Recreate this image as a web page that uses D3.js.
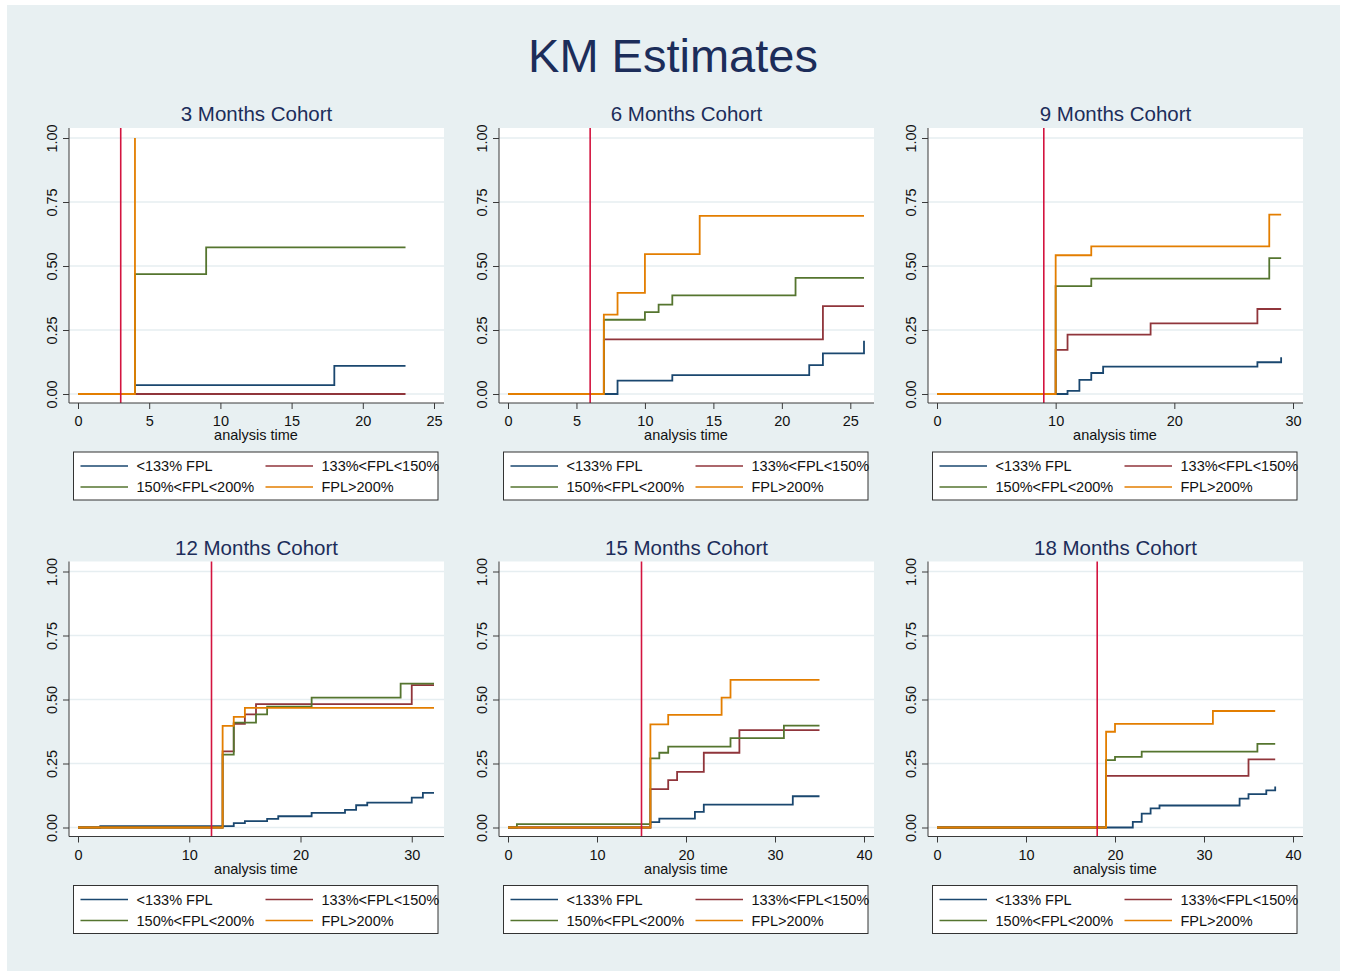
<!DOCTYPE html>
<html>
<head>
<meta charset="utf-8">
<script src="https://cdn.jsdelivr.net/npm/d3@7"></script>
<style>
  body { margin: 0; background: #fff; }
  svg { display: block; }
</style>
</head>
<body>
<svg id="chart" width="1346" height="973"></svg>
<script>
// Panel titles, cohort month (red reference line) and x axis set-up
const panelTitles = ['3 Months Cohort', '6 Months Cohort', '9 Months Cohort',
  '12 Months Cohort', '15 Months Cohort', '18 Months Cohort']
const cohortMonths = [3, 6, 9, 12, 15, 18]
const xDomainMax = [25, 26, 30, 32, 40, 40]
const xTickValues = [
  [0, 5, 10, 15, 20, 25],
  [0, 5, 10, 15, 20, 25],
  [0, 10, 20, 30],
  [0, 10, 20, 30],
  [0, 10, 20, 30, 40],
  [0, 10, 20, 30, 40]
]
const yTickValues = [0, 0.25, 0.5, 0.75, 1]
const groupLabels = ['<133% FPL', '133%<FPL<150%', '150%<FPL<200%', 'FPL>200%']

// KM failure estimates, one [time, estimate] list per group
const km3 = [
  [[0, 0], [4, 0.035], [18, 0.11], [23, 0.11]],
  [[0, 0], [23, 0]],
  [[0, 0], [4, 0.468], [9, 0.573], [23, 0.573]],
  [[0, 0], [4, 1]]
]
const km6 = [
  [[0, 0], [8, 0.052], [12, 0.074], [22, 0.113], [23, 0.159], [26, 0.208]],
  [[0, 0], [7, 0.213], [23, 0.343], [26, 0.343]],
  [[0, 0], [7, 0.29], [10, 0.32], [11, 0.349], [12, 0.385], [21, 0.454], [26, 0.454]],
  [[0, 0], [7, 0.31], [8, 0.395], [10, 0.546], [14, 0.696], [26, 0.696]]
]
const km9 = [
  [[0, 0], [11, 0.012], [12, 0.055], [13, 0.082], [14, 0.107], [27, 0.124], [29, 0.144]],
  [[0, 0], [10, 0.172], [11, 0.232], [18, 0.276], [27, 0.332], [29, 0.332]],
  [[0, 0], [10, 0.421], [13, 0.451], [28, 0.531], [29, 0.531]],
  [[0, 0], [10, 0.542], [13, 0.577], [28, 0.701], [29, 0.701]]
]
const km12 = [
  [[0, 0], [2, 0.005], [14, 0.017], [15, 0.025], [17, 0.034], [18, 0.044], [21, 0.057],
    [24, 0.069], [25, 0.087], [26, 0.097], [30, 0.117], [31, 0.135], [32, 0.135]],
  [[0, 0], [13, 0.297], [14, 0.405], [15, 0.442], [16, 0.482], [30, 0.556], [32, 0.556]],
  [[0, 0], [13, 0.285], [14, 0.41], [16, 0.442], [17, 0.472], [21, 0.507], [29, 0.562], [32, 0.562]],
  [[0, 0], [13, 0.397], [14, 0.432], [15, 0.467], [32, 0.467]]
]
const km15 = [
  [[0, 0], [16, 0.021], [17, 0.035], [21, 0.061], [22, 0.089], [32, 0.122], [35, 0.122]],
  [[0, 0], [16, 0.15], [18, 0.185], [19, 0.217], [22, 0.292], [26, 0.38], [35, 0.38]],
  [[0, 0], [1, 0.013], [16, 0.27], [17, 0.292], [18, 0.316], [25, 0.349], [31, 0.398], [35, 0.398]],
  [[0, 0], [16, 0.403], [18, 0.44], [24, 0.507], [25, 0.577], [35, 0.577]]
]
const km18 = [
  [[0, 0], [22, 0.022], [23, 0.054], [24, 0.075], [25, 0.086], [34, 0.113], [35, 0.13], [37, 0.145], [38, 0.16]],
  [[0, 0], [19, 0.202], [35, 0.266], [38, 0.266]],
  [[0, 0], [19, 0.263], [20, 0.276], [23, 0.296], [36, 0.327], [38, 0.327]],
  [[0, 0], [19, 0.374], [20, 0.405], [31, 0.455], [38, 0.455]]
]
const panelData = [km3, km6, km9, km12, km15, km18]

// Stata s2color look
const groupColors = ['#1a476f', '#90353b', '#55752f', '#e37e00']
const font = '"Liberation Sans", Arial, sans-serif'
const titleColor = '#1c2d5a'
const axisColor = '#3a3a3a'

const svg = d3.select('#chart')

// outer graph region
svg.append('rect')
  .attr('x', 7).attr('y', 5)
  .attr('width', 1333).attr('height', 966)
  .attr('fill', '#e8f0f2')

svg.append('text')
  .attr('x', 673).attr('y', 72)
  .attr('text-anchor', 'middle')
  .attr('font-family', font)
  .attr('font-size', 47)
  .attr('fill', titleColor)
  .text('KM Estimates')

// panel geometry (local to each panel)
const colOffsets = [0, 430, 859]
const rowOffsets = [0, 433.5]
const box = { left: 69, right: 444, top: 128, bottom: 403 }

panelData.forEach((series, i) => {
  const g = svg.append('g')
    .attr('transform', `translate(${colOffsets[i % 3]},${rowOffsets[Math.floor(i / 3)]})`)

  const x = d3.scaleLinear().domain([0, xDomainMax[i]]).range([78, 434])
  const y = d3.scaleLinear().domain([0, 1]).range([394, 138])

  // white plot region
  g.append('rect')
    .attr('x', box.left).attr('y', box.top)
    .attr('width', box.right - box.left).attr('height', box.bottom - box.top)
    .attr('fill', '#fff')

  // horizontal grid
  g.selectAll('.grid')
    .data(yTickValues)
    .join('line')
    .attr('x1', box.left).attr('x2', box.right)
    .attr('y1', d => y(d)).attr('y2', d => y(d))
    .attr('stroke', '#e6eef1')
    .attr('stroke-width', 1.6)

  // step curves
  const line = d3.line()
    .x(d => x(d[0]))
    .y(d => y(d[1]))
    .curve(d3.curveStepAfter)

  series.forEach((pts, k) => {
    g.append('path')
      .attr('d', line(pts))
      .attr('fill', 'none')
      .attr('stroke', groupColors[k])
      .attr('stroke-width', 1.8)
  })

  // cohort reference line
  g.append('line')
    .attr('x1', x(cohortMonths[i])).attr('x2', x(cohortMonths[i]))
    .attr('y1', box.top).attr('y2', box.bottom)
    .attr('stroke', '#d3143f')
    .attr('stroke-width', 1.6)

  // x axis
  const xAxis = g.append('g')
    .attr('transform', `translate(0,${box.bottom})`)
    .call(d3.axisBottom(x).tickValues(xTickValues[i]).tickSize(6).tickPadding(7).tickSizeOuter(0))
  xAxis.select('.domain')
    .attr('d', `M${box.left},0H${box.right}`)
    .attr('stroke', axisColor)
  xAxis.selectAll('.tick line').attr('stroke', axisColor)
  xAxis.selectAll('.tick text')
    .attr('font-family', font).attr('font-size', 14.5).attr('fill', '#111')

  // y axis with rotated labels
  const yAxis = g.append('g')
    .attr('transform', `translate(${box.left},0)`)
    .call(d3.axisLeft(y).tickValues(yTickValues).tickFormat(d3.format('.2f')).tickSize(6).tickSizeOuter(0))
  yAxis.select('.domain')
    .attr('d', `M0,${box.top}V${box.bottom}`)
    .attr('stroke', axisColor)
  yAxis.selectAll('.tick line').attr('stroke', axisColor)
  yAxis.selectAll('.tick text')
    .attr('transform', 'rotate(-90)')
    .attr('x', 0).attr('y', -12.5).attr('dy', 0)
    .attr('text-anchor', 'middle')
    .attr('font-family', font).attr('font-size', 14.5).attr('fill', '#111')

  // titles
  g.append('text')
    .attr('x', 256.5).attr('y', 121)
    .attr('text-anchor', 'middle')
    .attr('font-family', font).attr('font-size', 20.5)
    .attr('fill', titleColor)
    .text(panelTitles[i])

  g.append('text')
    .attr('x', 256).attr('y', 440)
    .attr('text-anchor', 'middle')
    .attr('font-family', font).attr('font-size', 14.5)
    .attr('fill', '#111')
    .text('analysis time')

  // legend
  const legend = g.append('g')
  legend.append('rect')
    .attr('x', 73.5).attr('y', 452)
    .attr('width', 364.5).attr('height', 48)
    .attr('fill', '#fff')
    .attr('stroke', '#333').attr('stroke-width', 1)

  groupLabels.forEach((label, k) => {
    const lx = k % 2 === 0 ? 80.5 : 265.5
    const ly = k < 2 ? 466 : 487
    legend.append('line')
      .attr('x1', lx).attr('x2', lx + 47.5)
      .attr('y1', ly).attr('y2', ly)
      .attr('stroke', groupColors[k])
      .attr('stroke-width', 1.6)
    legend.append('text')
      .attr('x', lx + 56).attr('y', ly + 5)
      .attr('font-family', font).attr('font-size', 14.5)
      .attr('fill', '#111')
      .text(label)
  })
})
</script>
</body>
</html>
